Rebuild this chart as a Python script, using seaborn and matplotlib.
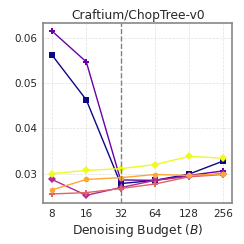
import matplotlib
matplotlib.use("Agg")
import matplotlib.pyplot as plt
import seaborn as sns
import numpy as np
import pandas as pd

budgets = [8, 16, 32, 64, 128, 256]
s1 = [0.0562, 0.0463, 0.0278, 0.0285, 0.0299, 0.0328]
s2 = [0.0615, 0.0547, 0.0286, 0.0285, 0.0296, 0.0306]
s3 = [0.0287, 0.0252, 0.0269, 0.0285, 0.0294, 0.0300]
s4 = [0.0255, 0.0258, 0.0267, 0.0277, 0.0293, 0.0298]
s5 = [0.0264, 0.0287, 0.0291, 0.0298, 0.0296, 0.0299]
s6 = [0.0300, 0.0307, 0.0311, 0.0320, 0.0338, 0.0334]
series_names = ["s1", "s2", "s3", "s4", "s5", "s6"]
markers = ["s", "P", "D", "P", "o", "D"]

sns.set_style("whitegrid")
plt.rcParams['font.family'] = ['DejaVu Sans']

rows = []
for name, vals in zip(series_names, [s1, s2, s3, s4, s5, s6]):
    for b, v in zip(budgets, vals):
        rows.append({"budget": b, "value": v, "series": name})
df = pd.DataFrame(rows)

colors = sns.color_palette("plasma", as_cmap=True)(np.linspace(0, 1, 6))
palette = {n: colors[i] for i, n in enumerate(series_names)}

fig = plt.figure(figsize=(2.44, 2.44), dpi=100)
ax = fig.add_axes([0.178, 0.168, 0.773, 0.738])
for i, n in enumerate(series_names):
    sub = df[df.series == n]
    sns.lineplot(data=sub, x="budget", y="value", color=palette[n], marker=markers[i],
                 markersize=4, linewidth=1.0, markeredgewidth=0, ax=ax, legend=False)
ax.set_xscale("log", base=2)
ax.set_xticks(budgets)
ax.set_xticklabels([str(b) for b in budgets])
ax.minorticks_off()
ax.axvline(32, color="gray", linestyle="--", linewidth=1.0)
ax.set_ylim(0.0235, 0.0633)
ax.set_yticks([0.03, 0.04, 0.05, 0.06])
ax.set_yticklabels(["0.03", "0.04", "0.05", "0.06"])
ax.grid(True, linestyle="--", linewidth=0.5, alpha=0.6)
for sp in ax.spines.values():
    sp.set_color("#888888")
    sp.set_linewidth(1.2)
ax.tick_params(labelsize=7.5, length=2.5, width=0.8, pad=2, color="#555555")
ax.set_title("Craftium/ChopTree-v0", fontsize=8.8, pad=3)
ax.set_xlabel("Denoising Budget ($B$)", fontsize=8.8, labelpad=2)
ax.set_ylabel("")
fig.savefig("out.png", dpi=100)
